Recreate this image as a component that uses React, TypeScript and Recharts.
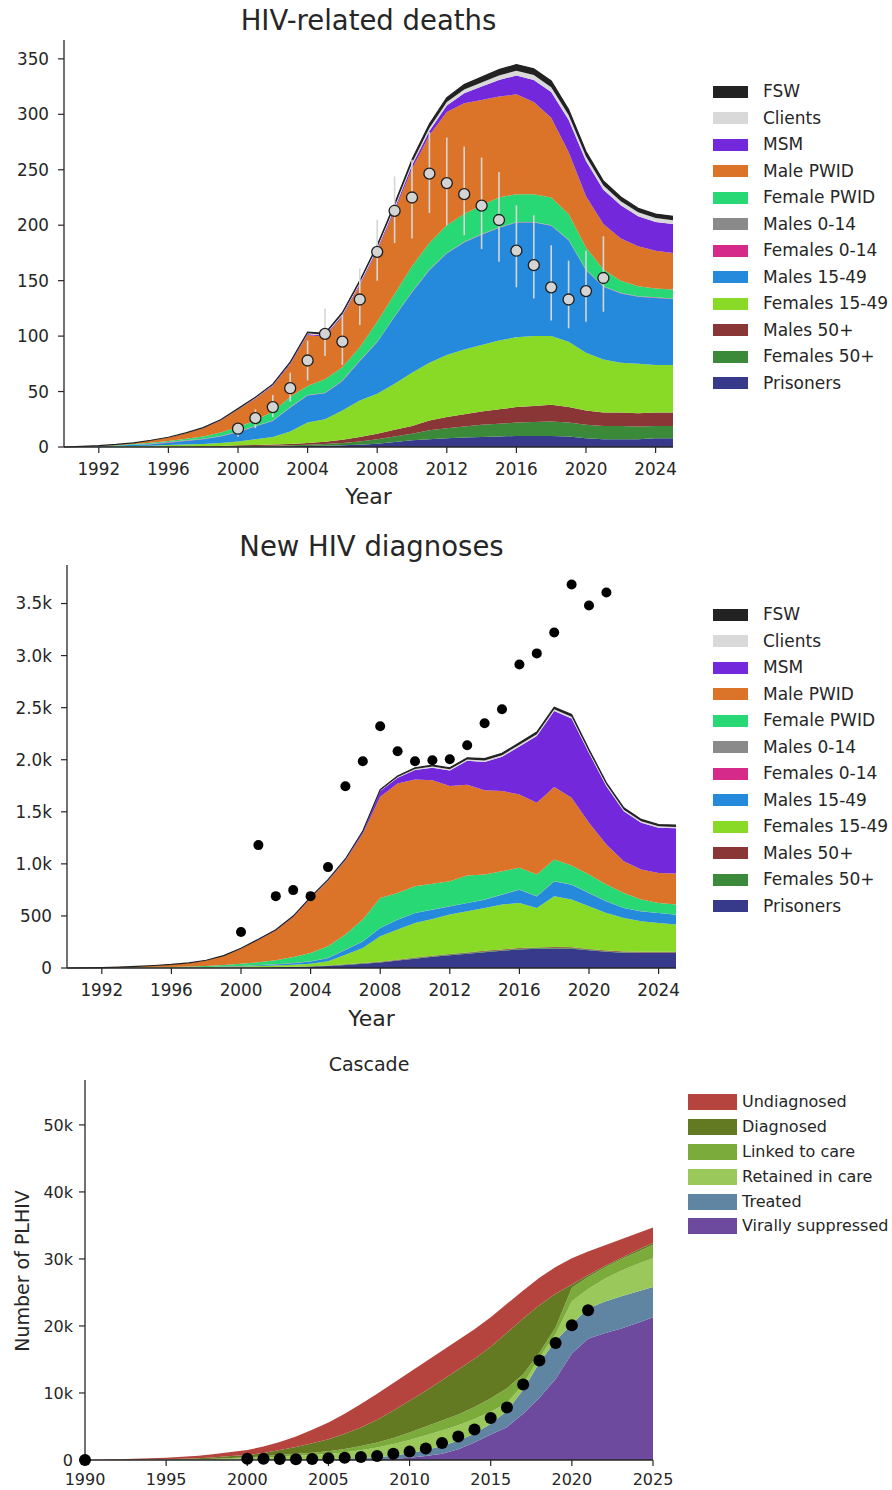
import React from 'react';
import { ComposedChart, Area, Scatter, ErrorBar, XAxis, YAxis } from 'recharts';

const FONT = "'DejaVu Sans', sans-serif";
const INK = '#262626';

const years = [
  1990, 1991, 1992, 1993, 1994, 1995, 1996, 1997, 1998, 1999,
  2000, 2001, 2002, 2003, 2004, 2005, 2006, 2007, 2008, 2009,
  2010, 2011, 2012, 2013, 2014, 2015, 2016, 2017, 2018, 2019,
  2020, 2021, 2022, 2023, 2024, 2025,
];

// ---- HIV-related deaths, per population (stacked bottom -> top)
const dPrisoners = [0, 0, 0, 0, 0, 0, 0, 0, 0, 0, 0.3, 0.4, 0.5, 0.7, 1, 1.2, 1.5, 2, 3, 4.5, 6, 7, 8, 8.5, 9, 9.5, 10, 10, 10, 9.5, 8, 7, 7, 7, 8, 8];
const dFemales50 = [0, 0, 0, 0, 0, 0, 0.1, 0.2, 0.3, 0.4, 0.5, 0.6, 0.7, 0.8, 1, 1.5, 2, 3, 4, 5, 6, 8, 9, 10, 11, 11.5, 12, 12.5, 13, 12.5, 12, 12, 12, 11.5, 11, 11];
const dMales50 = [0, 0, 0, 0, 0, 0, 0.2, 0.3, 0.4, 0.5, 0.7, 0.8, 1, 1.2, 1.5, 2, 3, 4, 5, 6, 7, 9, 10, 11, 12, 13, 14, 14.5, 15, 14, 13, 12, 12, 12, 12, 12];
const dFemales1549 = [0, 0.1, 0.3, 0.5, 0.8, 1.2, 1.4, 1.7, 2.1, 2.7, 3.5, 5.2, 6.8, 11.3, 18.5, 20.3, 26.5, 33, 36, 41.5, 48, 52, 56, 58.5, 60, 62, 63, 63, 62, 59, 52, 48, 45, 44.5, 43, 43];
const dMales1549 = [0, 0.2, 0.4, 0.7, 1.2, 1.2, 2.2, 3.2, 4.1, 5.8, 8.4, 11.4, 14.4, 21.4, 24.4, 23.4, 26.4, 35.4, 46.4, 60.4, 72.4, 83.4, 91.4, 96.4, 99.4, 101.4, 103.4, 102.4, 99.4, 91.4, 74.4, 65.4, 62.4, 60.4, 60.4, 59.4];
const dFemales014 = [0, 0, 0, 0, 0, 0.3, 0.3, 0.3, 0.3, 0.3, 0.3, 0.3, 0.3, 0.3, 0.3, 0.3, 0.3, 0.3, 0.3, 0.3, 0.3, 0.3, 0.3, 0.3, 0.3, 0.3, 0.3, 0.3, 0.3, 0.3, 0.3, 0.3, 0.3, 0.3, 0.3, 0.3];
const dMales014 = [0, 0, 0, 0, 0, 0.3, 0.3, 0.3, 0.3, 0.3, 0.3, 0.3, 0.3, 0.3, 0.3, 0.3, 0.3, 0.3, 0.3, 0.3, 0.3, 0.3, 0.3, 0.3, 0.3, 0.3, 0.3, 0.3, 0.3, 0.3, 0.3, 0.3, 0.3, 0.3, 0.3, 0.3];
const dFemalePwid = [0, 0.1, 0.2, 0.4, 0.6, 0.8, 1, 1.5, 2, 3, 4, 5, 8, 9, 8, 12, 12, 12, 18, 20, 23, 24, 25, 25, 26, 27, 25, 25, 25, 23, 20, 15, 11, 9, 8, 8];
const dMalePwid = [0, 0.1, 0.3, 0.7, 1.1, 2.2, 3, 4.8, 7.5, 10.8, 15.5, 19.5, 23, 29.5, 46, 38.5, 46, 56, 64, 75, 88, 97, 102, 100, 95, 91, 90, 83, 72, 56, 46, 41, 38, 36, 34, 33];
const dMsm = [0, 0, 0, 0, 0.1, 0.1, 0.1, 0.2, 0.2, 0.3, 0.4, 0.5, 0.6, 0.7, 0.8, 0.9, 1, 1.2, 1.5, 2, 3, 4, 6, 9, 12, 15, 17, 20, 23, 29, 32, 31, 30, 27, 26, 26];
const dClients = [0, 0, 0, 0, 0, 0, 0.1, 0.1, 0.1, 0.2, 0.3, 0.4, 0.5, 0.6, 0.8, 0.9, 1, 1.2, 1.5, 1.8, 2.2, 2.6, 3, 3.3, 3.6, 4, 4.3, 4.5, 4.5, 4.3, 4, 3.8, 3.6, 3.6, 3.5, 3.5];
const dFsw = [0, 0, 0, 0, 0, 0, 0.1, 0.1, 0.2, 0.3, 0.4, 0.5, 0.6, 0.8, 1, 1.1, 1.3, 1.6, 2, 2.5, 3, 3.5, 4, 4.5, 5, 5.3, 5.5, 5.5, 5.5, 5, 4.5, 4, 3.8, 3.7, 3.5, 3.5];

// observed deaths with uncertainty range
const deathObsYears = [2000, 2001, 2002, 2003, 2004, 2005, 2006, 2007, 2008, 2009, 2010, 2011, 2012, 2013, 2014, 2015, 2016, 2017, 2018, 2019, 2020, 2021];
const deathObs = [16.5, 26, 36, 53, 78, 102, 95, 133, 176, 213, 225, 246.5, 238, 228, 217.6, 204.7, 177, 164, 144, 133, 140.6, 152.4];
const deathObsLow = [9.3, 17, 27, 41, 60, 82, 74, 110, 150, 184, 188, 211, 200, 191, 178.5, 167, 144, 134, 114, 107, 113, 122];
const deathObsHigh = [21.6, 34, 47, 67, 96, 125, 119, 161, 205, 244, 259, 284, 279, 271, 261, 248, 218, 209, 182, 168, 177, 190];

// ---- New HIV diagnoses, per population
const nPrisoners = [0, 0, 0, 0, 0, 0, 0, 0, 1, 2, 3, 4.6, 7, 10, 14, 20, 30, 41, 52, 71, 90, 107, 123, 138, 152, 165, 178, 184, 188, 186, 170, 156, 146, 143, 144, 144];
const nFemales50 = [0, 0, 0, 0, 0, 0, 0, 0, 0, 0, 0.5, 0.7, 1, 1.5, 2, 2.5, 3, 3.5, 4, 4.5, 5, 5.5, 6, 6, 6.5, 6.5, 7, 7, 7, 7, 6.5, 6, 6, 6, 6, 6];
const nMales50 = [0, 0, 0, 0, 0, 0, 0, 0, 0, 0, 0.5, 0.7, 1, 1.5, 2, 2.5, 3, 3.5, 4, 4.5, 5, 5.5, 6, 6, 6.5, 6.5, 7, 7, 7, 7, 6.5, 6, 6, 6, 6, 6];
const nFemales1549 = [0, 0.2, 0.5, 1, 1.5, 2, 3, 5, 6, 8, 10, 13, 16, 19, 24, 39, 92, 144, 245, 289, 333, 353, 378, 395, 412, 431, 433, 379, 487, 457, 410, 361, 323, 294, 277, 261];
const nMales1549 = [0, 0.2, 0.5, 0.7, 1, 1, 1, 1, 2, 3, 4, 7, 9, 14, 20, 30, 46, 62, 78, 94, 94, 88, 78, 78, 78, 94, 126, 110, 142, 142, 126, 110, 94, 94, 94, 94];
const nFemales014 = [0, 0, 0, 0, 0, 0.5, 0.5, 0.5, 0.5, 0.5, 1, 1, 1, 1, 1, 1, 1, 1, 1, 1, 1, 1, 1, 1, 1, 1, 1, 1, 1, 1, 1, 1, 1, 1, 1, 1];
const nMales014 = [0, 0, 0, 0, 0, 0.5, 0.5, 0.5, 0.5, 0.5, 1, 1, 1, 1, 1, 1, 1, 1, 1, 1, 1, 1, 1, 1, 1, 1, 1, 1, 1, 1, 1, 1, 1, 1, 1, 1];
const nFemalePwid = [0, 0.3, 0.8, 1.3, 2, 3, 5, 7, 10, 14, 20, 27, 39, 57, 80, 112, 145, 209, 288, 256, 256, 247, 240, 264, 240, 224, 209, 208, 209, 183, 176, 160, 144, 112, 96, 96];
const nMalePwid = [0, 0.8, 2.7, 6, 10.5, 16, 23, 33, 52, 87, 145, 215, 285, 385, 526, 627, 709, 825, 971, 1051, 1026, 996, 914, 871, 811, 770, 705, 690, 695, 651, 497, 385, 305, 289, 288, 298];
const nMsm = [0, 0, 0, 0, 0, 0.5, 0.5, 1, 1, 2, 3, 3, 4, 4, 5, 6, 8, 15, 55, 55, 90, 120, 150, 230, 270, 330, 460, 640, 730, 760, 670, 560, 480, 450, 435, 435];
const nClients = [0, 0, 0, 0, 0, 0.2, 0.3, 0.5, 0.7, 1, 1, 1.5, 2, 2.5, 3, 3.5, 4, 5, 6, 7, 9, 10, 11, 12, 14, 15, 16, 18, 17, 18, 16, 15, 14, 14, 13, 13];
const nFsw = [0, 0, 0, 0, 0, 0.2, 0.3, 0.5, 0.7, 1, 1, 1.5, 2, 2.5, 3, 4, 5, 6, 8, 10, 13, 14, 15, 16, 18, 18, 20, 21, 20, 22, 19, 18, 18, 17, 17, 17];

const diagObsYears = [2000, 2001, 2002, 2003, 2004, 2005, 2006, 2007, 2008, 2009, 2010, 2011, 2012, 2013, 2014, 2015, 2016, 2017, 2018, 2019, 2020, 2021];
const diagObs = [345, 1180, 690, 748, 690, 969, 1745, 1985, 2321, 2081, 1985, 1995, 2004, 2139, 2350, 2484, 2915, 3021, 3222, 3683, 3481, 3606];

// ---- Cascade (stacked bottom -> top)
const cSuppressed = [0, 0, 0, 0, 0, 0, 0, 0, 0, 0, 0, 0, 0, 0, 0, 20, 40, 70, 120, 200, 350, 600, 950, 1600, 2600, 3800, 4900, 6900, 9300, 12100, 15900, 18100, 18900, 19600, 20400, 21300];
const cTreated = [0, 0, 0, 1, 2, 3, 5, 8, 12, 20, 30, 40, 60, 80, 110, 130, 170, 230, 300, 450, 650, 900, 1150, 1300, 1300, 1600, 2400, 3600, 5200, 5700, 4400, 4500, 4700, 4800, 4700, 4500];
const cRetained = [0, 3, 7, 14, 23, 37, 55, 82, 128, 180, 250, 340, 440, 540, 640, 750, 940, 1150, 1430, 1750, 2000, 2200, 2300, 2300, 2200, 1800, 1200, 800, 800, 1000, 3400, 2900, 3400, 3800, 4100, 4300];
const cLinked = [0, 2, 3, 10, 15, 20, 30, 40, 60, 100, 120, 170, 250, 330, 350, 400, 500, 650, 750, 900, 1100, 1300, 1500, 1600, 1800, 2000, 2200, 1500, 700, 1000, 2000, 1800, 1700, 1700, 1800, 2000];
const cDiagnosed = [0, 5, 10, 25, 40, 60, 90, 140, 220, 300, 350, 500, 750, 1000, 1400, 1800, 2250, 2750, 3400, 4100, 4750, 5350, 6000, 6700, 7200, 7700, 8300, 8300, 7100, 5000, 500, 300, 200, 200, 300, 300];
const cUndiagnosed = [0, 40, 80, 130, 180, 230, 300, 380, 480, 600, 750, 950, 1200, 1550, 2000, 2500, 3000, 3500, 3900, 4100, 4250, 4350, 4400, 4400, 4400, 4400, 4300, 4200, 4100, 4000, 3900, 3500, 3100, 2800, 2500, 2300];

const cascadeObsYears = [1990, 2000, 2001, 2002, 2003, 2004, 2005, 2006, 2007, 2008, 2009, 2010, 2011, 2012, 2013, 2014, 2015, 2016, 2017, 2018, 2019, 2020, 2021];
const cascadeObs = [0, 200, 200, 150, 100, 150, 250, 350, 450, 600, 950, 1250, 1700, 2550, 3500, 4550, 6250, 7850, 11250, 14850, 17450, 20100, 22350];

// ---- axes
const popYearTicks = [1992, 1996, 2000, 2004, 2008, 2012, 2016, 2020, 2024];
const deathTicks = [0, 50, 100, 150, 200, 250, 300, 350];
const diagTicks = [0, 500, 1000, 1500, 2000, 2500, 3000, 3500];
const diagTickLabels = ['0', '500', '1.0k', '1.5k', '2.0k', '2.5k', '3.0k', '3.5k'];
const cascadeYearTicks = [1990, 1995, 2000, 2005, 2010, 2015, 2020, 2025];
const cascadeTicks = [0, 10000, 20000, 30000, 40000, 50000];
const cascadeTickLabels = ['0', '10k', '20k', '30k', '40k', '50k'];

// populations, bottom of the stack first
const populations = [
  { key: 'prisoners', name: 'Prisoners', color: '#37398a', deaths: dPrisoners, diag: nPrisoners },
  { key: 'f50', name: 'Females 50+', color: '#3a8a3a', deaths: dFemales50, diag: nFemales50 },
  { key: 'm50', name: 'Males 50+', color: '#8a3636', deaths: dMales50, diag: nMales50 },
  { key: 'f1549', name: 'Females 15-49', color: '#89d927', deaths: dFemales1549, diag: nFemales1549 },
  { key: 'm1549', name: 'Males 15-49', color: '#2589dc', deaths: dMales1549, diag: nMales1549 },
  { key: 'f014', name: 'Females 0-14', color: '#d62a8a', deaths: dFemales014, diag: nFemales014 },
  { key: 'm014', name: 'Males 0-14', color: '#8a8a8a', deaths: dMales014, diag: nMales014 },
  { key: 'fpwid', name: 'Female PWID', color: '#28d874', deaths: dFemalePwid, diag: nFemalePwid },
  { key: 'mpwid', name: 'Male PWID', color: '#db7328', deaths: dMalePwid, diag: nMalePwid },
  { key: 'msm', name: 'MSM', color: '#7328dc', deaths: dMsm, diag: nMsm },
  { key: 'clients', name: 'Clients', color: '#d9d9d9', deaths: dClients, diag: nClients },
  { key: 'fsw', name: 'FSW', color: '#222222', deaths: dFsw, diag: nFsw },
];

const stages = [
  { key: 'suppressed', name: 'Virally suppressed', color: '#6e4a9e', values: cSuppressed },
  { key: 'treated', name: 'Treated', color: '#5f85a3', values: cTreated },
  { key: 'retained', name: 'Retained in care', color: '#9bc85a', values: cRetained },
  { key: 'linked', name: 'Linked to care', color: '#7bab3a', values: cLinked },
  { key: 'diagnosed', name: 'Diagnosed', color: '#637a23', values: cDiagnosed },
  { key: 'undiagnosed', name: 'Undiagnosed', color: '#b5443f', values: cUndiagnosed },
];

const deathRows = years.map((year, i) => {
  const row: any = { year };
  populations.forEach((p) => { row[p.key] = p.deaths[i]; });
  return row;
});
const diagRows = years.map((year, i) => {
  const row: any = { year };
  populations.forEach((p) => { row[p.key] = p.diag[i]; });
  return row;
});
const cascadeRows = years.map((year, i) => {
  const row: any = { year };
  stages.forEach((s) => { row[s.key] = s.values[i]; });
  return row;
});

const deathPoints = deathObsYears.map((year, i) => ({
  year,
  value: deathObs[i],
  err: [deathObs[i] - deathObsLow[i], deathObsHigh[i] - deathObs[i]],
}));
const diagPoints = diagObsYears.map((year, i) => ({ year, value: diagObs[i] }));
const cascadePoints = cascadeObsYears.map((year, i) => ({ year, value: cascadeObs[i] }));

const axisProps = {
  stroke: INK,
  axisLine: { stroke: INK, strokeWidth: 1.3 },
  tickLine: { stroke: INK, strokeWidth: 1.2 },
  tickSize: 6,
};

const tickStyle = (size: number) => ({ fill: INK, fontSize: size, fontFamily: FONT });

const Legend = ({ items, top, left, swW, swH, rowH, gap, fontSize }: any) => (
  <div style={{ position: 'absolute', top, left, fontFamily: FONT }}>
    {items.map((it: any) => (
      <div key={it.name} style={{ display: 'flex', alignItems: 'center', height: rowH }}>
        <div style={{ width: swW, height: swH, background: it.color, marginRight: gap, flexShrink: 0 }} />
        <span style={{ fontSize, color: INK, lineHeight: 1, whiteSpace: 'nowrap' }}>{it.name}</span>
      </div>
    ))}
  </div>
);

const Text = ({ x, y, size, children }: any) => (
  <div style={{
    position: 'absolute', left: x - 200, top: y, width: 400, textAlign: 'center',
    fontFamily: FONT, fontSize: size, lineHeight: 1, color: INK, whiteSpace: 'nowrap',
  }}>{children}</div>
);

const PopulationAreas = () =>
  populations.map((p) => (
    <Area
      key={p.key}
      type="linear"
      dataKey={p.key}
      stackId="pop"
      fill={p.color}
      fillOpacity={1}
      stroke={p.key === 'fsw' ? '#222' : 'none'}
      strokeWidth={p.key === 'fsw' ? 1.2 : 0}
      isAnimationActive={false}
      dot={false}
      activeDot={false}
    />
  ));

export default function App() {
  const legendItems = [...populations].reverse();
  const stageLegend = [...stages].reverse();

  return (
    <div style={{ position: 'absolute', left: 0, top: 0, width: 892, height: 1490, background: '#fff', overflow: 'hidden' }}>
      {/* HIV-related deaths */}
      <Text x={368.5} y={7} size={27.5}>HIV-related deaths</Text>
      <div style={{ position: 'absolute', left: 0, top: 0 }}>
        <ComposedChart width={892} height={490} data={deathRows} margin={{ top: 40, right: 219, bottom: 13, left: 14 }}>
          <XAxis dataKey="year" type="number" domain={[1990, 2025]} ticks={popYearTicks} interval={0}
            height={30} tickMargin={10} tick={tickStyle(16.8)} {...axisProps} />
          <YAxis type="number" domain={[0, 367]} ticks={deathTicks} interval={0} width={50}
            tickMargin={9} tick={tickStyle(16.8)} {...axisProps} />
          {PopulationAreas()}
          <Scatter data={deathPoints} dataKey="value" isAnimationActive={false}
            shape={(p: any) => <circle cx={p.cx} cy={p.cy} r={5.5} fill="#d4d4d4" stroke="#1e1e1e" strokeWidth={1.3} />}>
            <ErrorBar dataKey="err" direction="y" width={0} stroke="#d6d6d6" strokeWidth={1.6} />
          </Scatter>
        </ComposedChart>
      </div>
      <Text x={368.5} y={486} size={22}>Year</Text>
      <Legend items={legendItems} top={78.5} left={713} swW={35} swH={12} rowH={26.5} gap={15} fontSize={17} />

      {/* New HIV diagnoses */}
      <Text x={371.5} y={533} size={27.5}>New HIV diagnoses</Text>
      <div style={{ position: 'absolute', left: 0, top: 520 }}>
        <ComposedChart width={892} height={490} data={diagRows} margin={{ top: 45, right: 216, bottom: 12, left: 17 }}>
          <XAxis dataKey="year" type="number" domain={[1990, 2025]} ticks={popYearTicks} interval={0}
            height={30} tickMargin={10} tick={tickStyle(16.8)} {...axisProps} />
          <YAxis type="number" domain={[0, 3870]} ticks={diagTicks} interval={0} width={50}
            tickMargin={9} tick={tickStyle(16.8)} {...axisProps}
            tickFormatter={(v: number) => diagTickLabels[diagTicks.indexOf(v)]} />
          {PopulationAreas()}
          <Scatter data={diagPoints} dataKey="value" isAnimationActive={false}
            shape={(p: any) => <circle cx={p.cx} cy={p.cy} r={5} fill="#000" />} />
        </ComposedChart>
      </div>
      <Text x={371.5} y={1008} size={22}>Year</Text>
      <Legend items={legendItems} top={601.5} left={713} swW={35} swH={12} rowH={26.5} gap={15} fontSize={17} />

      {/* Cascade */}
      <Text x={369} y={1055} size={19}>Cascade</Text>
      <div style={{ position: 'absolute', left: 0, top: 1040 }}>
        <ComposedChart width={892} height={450} data={cascadeRows} margin={{ top: 40, right: 239, bottom: 0, left: 35 }}>
          <XAxis dataKey="year" type="number" domain={[1990, 2025]} ticks={cascadeYearTicks} interval={0}
            height={30} tickMargin={8} tick={tickStyle(16)} {...axisProps} />
          <YAxis type="number" domain={[0, 56700]} ticks={cascadeTicks} interval={0} width={50}
            tickMargin={6} tick={tickStyle(16)} {...axisProps}
            tickFormatter={(v: number) => cascadeTickLabels[cascadeTicks.indexOf(v)]} />
          {stages.map((s) => (
            <Area key={s.key} type="linear" dataKey={s.key} stackId="cascade" fill={s.color} fillOpacity={1}
              stroke="none" isAnimationActive={false} dot={false} activeDot={false} />
          ))}
          <Scatter data={cascadePoints} dataKey="value" isAnimationActive={false}
            shape={(p: any) => <circle cx={p.cx} cy={p.cy} r={6} fill="#000" />} />
        </ComposedChart>
      </div>
      <div style={{
        position: 'absolute', left: 22 - 100, top: 1271 - 10, width: 200, height: 20, textAlign: 'center',
        transform: 'rotate(-90deg)', fontFamily: FONT, fontSize: 19, lineHeight: '20px', color: INK, whiteSpace: 'nowrap',
      }}>Number of PLHIV</div>
      <Legend items={stageLegend} top={1090} left={688} swW={49} swH={16} rowH={24.8} gap={5} fontSize={16} />
    </div>
  );
}
